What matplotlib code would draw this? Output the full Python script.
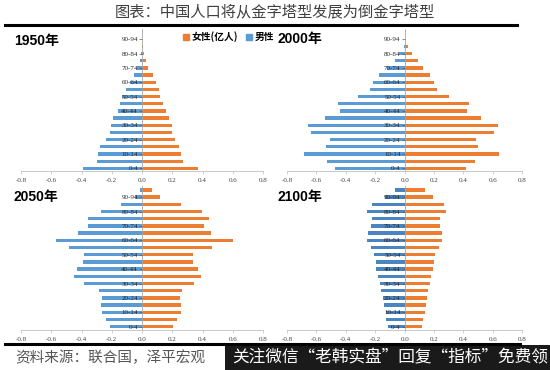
import matplotlib
matplotlib.use('Agg')
import matplotlib.pyplot as plt
from matplotlib.patches import Rectangle, Patch

plt.rcParams['font.family'] = ['Liberation Sans', 'Noto Sans CJK SC']

# age groups, bottom to top
ageGroups = ['0-4', '5-9', '10-14', '15-19', '20-24', '25-29', '30-34', '35-39', '40-44', '45-49',
             '50-54', '55-59', '60-64', '65-69', '70-74', '75-79', '80-84', '85-89', '90-94', '95-99']

# population in 100 million (亿人)
female1950 = [0.37, 0.27, 0.26, 0.245, 0.22, 0.20, 0.20, 0.18, 0.16, 0.14,
              0.12, 0.11, 0.09, 0.07, 0.04, 0.025, 0.01, 0.004, 0.001, 0.0]
male1950 = [0.39, 0.30, 0.29, 0.275, 0.24, 0.21, 0.205, 0.19, 0.16, 0.145,
            0.13, 0.105, 0.08, 0.055, 0.03, 0.015, 0.005, 0.002, 0.0005, 0.0]

female2000 = [0.42, 0.476, 0.642, 0.502, 0.486, 0.608, 0.635, 0.516, 0.421, 0.437,
              0.302, 0.223, 0.20, 0.174, 0.124, 0.088, 0.05, 0.02, 0.004, 0.001]
male2000 = [0.473, 0.529, 0.685, 0.532, 0.509, 0.64, 0.66, 0.541, 0.44, 0.453,
            0.315, 0.239, 0.216, 0.176, 0.12, 0.068, 0.04, 0.007, 0.001, 0.0]

female2050 = [0.205, 0.23, 0.255, 0.26, 0.253, 0.266, 0.347, 0.387, 0.37, 0.336,
              0.34, 0.464, 0.60, 0.457, 0.41, 0.446, 0.398, 0.255, 0.116, 0.068]
male2050 = [0.213, 0.24, 0.264, 0.268, 0.264, 0.286, 0.382, 0.448, 0.433, 0.393,
            0.385, 0.483, 0.571, 0.422, 0.36, 0.356, 0.272, 0.136, 0.048, 0.015]

female2100 = [0.117, 0.126, 0.135, 0.144, 0.151, 0.158, 0.169, 0.182, 0.194, 0.198,
              0.207, 0.232, 0.254, 0.252, 0.239, 0.239, 0.284, 0.27, 0.196, 0.14]
male2100 = [0.115, 0.124, 0.13, 0.142, 0.149, 0.158, 0.169, 0.182, 0.194, 0.198,
            0.207, 0.232, 0.254, 0.248, 0.232, 0.225, 0.254, 0.225, 0.135, 0.068]

xTicks = [-0.8, -0.6, -0.4, -0.2, 0.0, 0.2, 0.4, 0.6, 0.8]

orange = '#ED7D31'
blue = '#5B9BD5'
darkBlue = '#4A85C0'

W, H = 550, 370
fig = plt.figure(figsize=(5.5, 3.7), dpi=100)


def px(x0, y0, x1, y1):
    # pixel box -> figure fraction [left, bottom, width, height]
    return [x0 / W, 1 - y1 / H, (x1 - x0) / W, (y1 - y0) / H]


def pyramid(rect, year, yearPos, female, male, ylow, maleColor=blue):
    ax = fig.add_axes(rect)
    pos = list(range(len(ageGroups)))
    ax.barh(pos, female, height=0.45, color=orange)
    ax.barh(pos, [-v for v in male], height=0.45, color=maleColor)
    # category labels sit on top of the bars
    ax.set_axisbelow(False)
    ax.set_xlim(-0.8, 0.8)
    ax.set_ylim(ylow, 19.5)
    for s in ['top', 'right']:
        ax.spines[s].set_visible(False)
    ax.spines['left'].set_position(('data', 0))
    ax.spines['left'].set_color('#a6a6a6')
    ax.spines['left'].set_linewidth(0.6)
    ax.spines['bottom'].set_color('#bfbfbf')
    ax.spines['bottom'].set_linewidth(0.6)
    ax.set_xticks(xTicks)
    ax.set_xticklabels(['%.1f' % t for t in xTicks], family='Liberation Serif', fontsize=5, color='#404040')
    ax.tick_params(axis='x', length=2, width=0.5, color='#bfbfbf', pad=3)
    ax.set_yticks(pos[::2])
    ax.set_yticklabels(ageGroups[::2], family='Liberation Serif', fontsize=5, color='#262626')
    ax.tick_params(axis='y', length=2, width=0.5, color='#595959', pad=1)
    ax.patch.set_alpha(0)
    fig.text(yearPos[0] / W, 1 - yearPos[1] / H, year, fontsize=10, fontweight='bold',
             family=['Liberation Sans', 'Noto Sans CJK SC'], va='top', ha='left')
    return ax


ax1 = pyramid(px(21, 28.5, 263, 170.8), '1950年', (14, 34), female1950, male1950, -0.35)
ax2 = pyramid(px(287, 28.5, 522.3, 170.8), '2000年', (278, 32), female2000, male2000, -0.35)
ax3 = pyramid(px(21, 186.3, 263, 330.3), '2050年', (14, 190), female2050, male2050, -0.5)
ax4 = pyramid(px(287, 186.3, 522.3, 330.3), '2100年', (278, 190), female2100, male2100, -0.5, darkBlue)

handles = [Patch(color=orange, label='女性(亿人)'), Patch(color=blue, label='男性')]
fig.legend(handles=handles, loc='center left', bbox_to_anchor=(174 / W, 1 - 37 / H), ncol=2, frameon=False,
           handlelength=0.6, handleheight=0.6, handletextpad=0.3, columnspacing=0.8,
           prop={'family': 'Noto Sans CJK SC', 'size': 7, 'weight': 'bold'})

# title and rules
fig.text(0.5, 1 - 12 / H, '图表：中国人口将从金字塔型发展为倒金字塔型', ha='center', va='center',
         fontsize=11, color='#404040', family='Noto Sans CJK SC')
fig.add_artist(plt.Line2D([5 / W, 517 / W], [1 - 25 / H, 1 - 25 / H], color='black', lw=2.2))
fig.add_artist(plt.Line2D([5 / W, 520 / W], [1 - 344 / H, 1 - 344 / H], color='black', lw=2.2))

fig.text(15 / W, 1 - 358 / H, '资料来源：联合国，泽平宏观', ha='left', va='center',
         fontsize=10.5, color='#555555', family='Noto Sans CJK SC', style='italic')

# watermark box at the bottom right
fig.add_artist(Rectangle((225 / W, 0), 1 - 225 / W, 25 / H, transform=fig.transFigure,
                         facecolor='#1a1a1a', edgecolor='none'))
fig.text(232 / W, 1 - 357.5 / H, '关注微信“老韩实盘”回复“指标”免费领', ha='left', va='center',
         fontsize=12, color='white', family='Noto Sans CJK SC')

fig.savefig('out.png', dpi=100)
